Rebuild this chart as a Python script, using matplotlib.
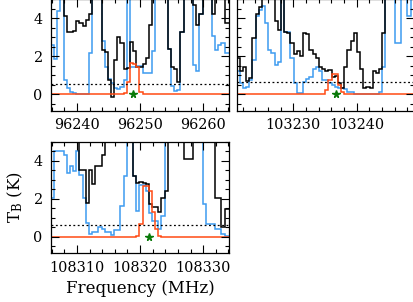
import numpy as np
import matplotlib
matplotlib.use('Agg')
import matplotlib.pyplot as plt
from matplotlib.ticker import MultipleLocator, ScalarFormatter

plt.rcParams['font.family'] = 'DejaVu Serif'
plt.rcParams['mathtext.fontset'] = 'dejavuserif'

# channel grid of each window (MHz)
chan_width = 0.5
f_start = [96235.9, 103221.05, 108305.9]
x_limits = [(96235.9, 96264.1), (103221.05, 103249.0), (108305.9, 108334.1)]

# observed spectrum (black), full model (blue), molecule model (red), in K
obs_1 = [7, 7, 7, 7, 4.1, 3.3, 3.3, 3.35, 3.85, 3.75, 3.6, 3.9, 4.2,
         7, 7, 7, 2.35, 2.2, 0.75, -0.15, 1.8, 3.0, 2.7, 1.3, 1.4, 2.75,
         2.3, 1.45, 1.45, 1.6, 1.9, 3.65, 7, 7, 7, 7, 7, 2.4, 1.45, 1.35,
         0.65, 3.3, 7, 7, 7, 4.7, 3.65, 4.2, 7, 7, 7, 4.2, 7, 7, 7, 3.75, 3.75]
all_1 = [2.6, 1.85, 4.4, 7, 0.75, 0.3, 0.12, 0.05, 0.02, 0.02, 0.02, 0.02,
         2.15, 7, 7, 7, 2.8, 1.45, 0.8, 0.6, 0.3, 0.25, 0.4, 0.75,
         7, 1.45, 1.45, 1.5, 1.5, 1.1, 1.1, 1.1, 2.25, 7, 7, 7,
         7, 2.4, 0.45, 0.18, 0.2, 3.3, 7, 7, 7, 1.55, 1.2, 4.2,
         7, 7, 7, 3.05, 2.35, 2.6, 2.7, 2.15, 2.15]
mol_1 = [0] * 22 + [0.03, 0.07, 0.65, 1.65, 1.6, 1.45, 0.12, 0.02] + [0] * 27

obs_2 = [1.9, 1.2, 1.45, 0.7, 0.85, 2.95, 4.2, 4.6, 7, 7, 7, 7, 3.85, 3.4, 7,
         3.3, 3.2, 2.7, 2.1, 2.25, 2.0, 3.2, 3.15, 2.35, 2.1, 1.9, 1.45, 1.3,
         1.2, 1.25, 0.9, 0.95, 0.6, 0.3, 1.45, 2.35, 2.8, 3.2, 2.2, 1.3, 0.35,
         0.4, 0.35, 1.2, 1.1, 1.3, 3.2, 7, 7, 7, 7, 7, 7, 7, 7, 7]
all_2 = [1.2, 0.57, 0.3, 0.4, 0.75, 1.8, 4.1, 4.45, 4.65, 3.75, 2.35, 2.15,
         1.55, 1.7, 7, 3.25, 3.25, 1.9, 0.57, 0.05, 0.05, 0.65, 0.8, 0.9, 1.35,
         1.45, 1.2, 0.75, 0.75, 0.57, 0.5, 0.4, 0.3, 0.3, 0.25, 0.12, 0.1,
         0.02, 0.02, 0.02, 0.02, 0.02, 0.02, 0.02, 0.02, 0.1, 1.45, 7, 7, 7,
         2.7, 2.7, 7, 7, 4.1, 7]
mol_2 = [0] * 28 + [0.23, 0.75, 1.08, 1.08, 0.5, 0.14] + [0] * 22

obs_3 = [7, 7, 7, 7, 7, 7, 7, 7, 7, 3.5, 3.5, 1.8, 3.5, 2.8, 3.7, 3.7, 4.3,
         7, 7, 7, 7, 7, 7, 7, 7, 7, 3.2, 2.85, 2.9, 2.85, 2.8, 1.7, 1.55, 1.55,
         1.3, 2.05, 2.4, 7, 7, 7, 7, 7, 4.1, 4.1, 4.1, 7, 7, 7, 7, 7, 7, 7,
         2.05, 2.05, 0.5, 1.45, 1.45]
all_3 = [2.05, 4.5, 4.5, 4.5, 4.3, 3.35, 3.7, 3.45, 4.5, 3.25, 2.05, 0.75,
         0.15, 0.25, 0.25, 0.5, 0.4, 0.25, 0.25, 0.07, 0.33, 0.33, 1.6, 3.2,
         7, 7, 3.2, 1.35, 2.7, 2.7, 2.4, 1.25, 0.85, 0.85, 0.4, 1.1,
         7, 7, 7, 7, 7, 7, 7, 7, 7, 7, 7, 7,
         1.7, 0.67, 0.67, 0.67, 0.4, 0.4, 0.15, 0.02, 0.02]
mol_3 = [0] * 27 + [0.05, 0.67, 2.65, 2.65, 2.4, 1.3, 0.4, 0.05] + [0] * 22

# 3 sigma noise level and line frequencies
rms3 = [0.55, 0.62, 0.62]
line_freq = [96248.9, 103236.7, 108321.4]

observed = [obs_1, obs_2, obs_3]
full_model = [all_1, all_2, all_3]
mol_model = [mol_1, mol_2, mol_3]

fig = plt.figure(figsize=(4.14, 3.02), dpi=100)
positions = [[0.1232, 0.6334, 0.4300, 0.3692],
             [0.5717, 0.6334, 0.4271, 0.3692],
             [0.1232, 0.1613, 0.4300, 0.3692]]

for k in range(3):
    ax = fig.add_axes(positions[k])
    n = len(observed[k])
    edges = f_start[k] + chan_width * np.arange(n + 1)
    ax.stairs(full_model[k], edges, baseline=None, color='#3d9bf0', lw=1.1)
    ax.stairs(observed[k], edges, baseline=None, color='black', lw=1.1)
    ax.stairs(mol_model[k], edges, baseline=None, color='#ff4a14', lw=1.1)
    ax.axhline(rms3[k], color='black', ls=(0, (1.5, 2.0)), lw=0.9)
    ax.plot(line_freq[k], 0.0, marker='*', color='#0a7a0a', ms=5.5, ls='none')

    ax.set_xlim(*x_limits[k])
    ax.set_ylim(-0.87, 5.0)
    ax.xaxis.set_major_locator(MultipleLocator(10))
    ax.xaxis.set_minor_locator(MultipleLocator(2))
    ax.yaxis.set_major_locator(MultipleLocator(2))
    ax.yaxis.set_minor_locator(MultipleLocator(0.5))
    fmt = ScalarFormatter(useOffset=False)
    ax.xaxis.set_major_formatter(fmt)
    ax.tick_params(which='both', direction='in', top=True, right=True,
                   width=0.8, labelsize=10.4)
    ax.tick_params(which='major', length=5.5)
    ax.tick_params(which='minor', length=3.2)
    ax.tick_params(axis='x', pad=5.5)
    ax.tick_params(axis='y', pad=6)
    if k == 1:
        ax.set_yticklabels([])
    if k == 2:
        ax.set_xlabel('Frequency (MHz)', fontsize=12, labelpad=4)
        ax.set_ylabel(r'T$_\mathrm{B}$ (K)', fontsize=12, labelpad=6)
    for s in ax.spines.values():
        s.set_linewidth(0.9)

fig.savefig('out.png', dpi=100)
